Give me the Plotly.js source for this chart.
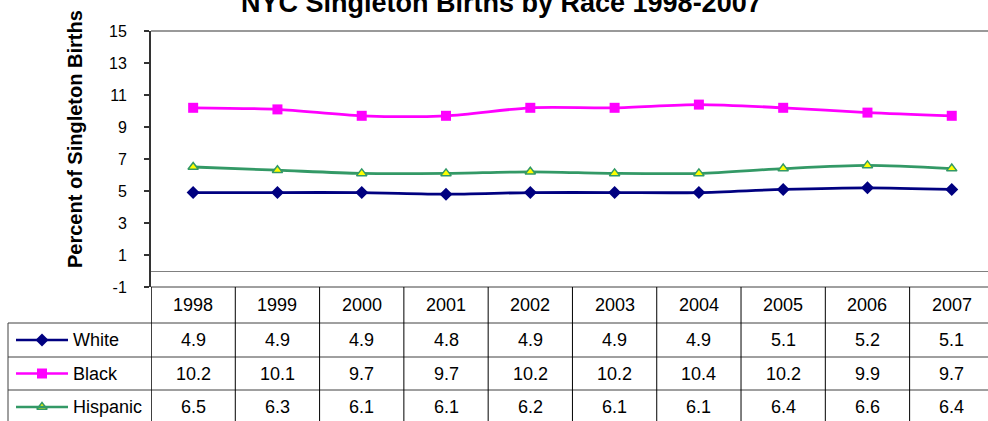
<!DOCTYPE html>
<html>
<head>
<meta charset="utf-8">
<script src="https://cdn.plot.ly/plotly-3.0.1.min.js"></script>
<style>html,body{margin:0;padding:0;background:#fff;}#chart{width:988px;height:421px;}</style>
</head>
<body>
<div id="chart"></div>
<script>
// ---- data ----
const years = ["1998","1999","2000","2001","2002","2003","2004","2005","2006","2007"];
const white = [4.9, 4.9, 4.9, 4.8, 4.9, 4.9, 4.9, 5.1, 5.2, 5.1];
const black = [10.2, 10.1, 9.7, 9.7, 10.2, 10.2, 10.4, 10.2, 9.9, 9.7];
const hispanic = [6.5, 6.3, 6.1, 6.1, 6.2, 6.1, 6.1, 6.4, 6.6, 6.4];
const seriesNames = ["White", "Black", "Hispanic"];
const yTicks = [-1, 1, 3, 5, 7, 9, 11, 13, 15];
const chartTitle = "NYC Singleton Births by Race 1998-2007";
const yTitle = "Percent of Singleton Births";

// ---- layout constants (pixels) ----
const W = 988, H = 421;
const plotL = 151, plotT = 31, plotB = 287;
const FONT = "'Liberation Sans', Arial, sans-serif";
const styles = [
  {line: "#000080", marker: {symbol: "diamond", size: 10, color: "#000080"}},
  {line: "#FF00FF", marker: {symbol: "square", size: 10, color: "#FF00FF"}},
  {line: "#339966", marker: {symbol: "triangle-up", size: 9, color: "#FFFF00", line: {color: "#339966", width: 1.5}}}
];
const values = [white, black, hispanic];

const headerTop = plotB, headerBot = 323;
const rowBounds = [[323, 357], [357, 390], [390, 424]];
const legendLeft = 8;

const traces = values.map((v, i) => ({
  type: "scatter", mode: "lines+markers", name: seriesNames[i],
  x: years, y: v, xaxis: "x", yaxis: "y",
  line: {color: styles[i].line, width: 2.8, shape: "spline", smoothing: 0.8},
  marker: styles[i].marker, showlegend: false, hoverinfo: "skip"
}));

// legend sample markers in the table (pixel overlay axes)
values.forEach((v, i) => {
  const cy = (rowBounds[i][0] + rowBounds[i][1]) / 2;
  traces.push({
    type: "scatter", mode: "markers", x: [42], y: [cy], xaxis: "x2", yaxis: "y2",
    marker: styles[i].marker, showlegend: false, hoverinfo: "skip", cliponaxis: false
  });
});

const shapes = [];
const ann = [];
// plot area top border
shapes.push({type: "line", xref: "x2", yref: "y2", x0: plotL, x1: W + 5, y0: plotT, y1: plotT, line: {color: "#999999", width: 2}});
// table horizontal lines
shapes.push({type: "line", xref: "x2", yref: "y2", x0: plotL, x1: W + 5, y0: headerTop, y1: headerTop, line: {color: "#404040", width: 1}});
[headerBot, rowBounds[1][0], rowBounds[2][0]].forEach(y => {
  shapes.push({type: "line", xref: "x2", yref: "y2", x0: legendLeft, x1: W + 5, y0: y, y1: y, line: {color: "#404040", width: 1}});
});
// legend column left edge
shapes.push({type: "line", xref: "x2", yref: "y2", x0: legendLeft, x1: legendLeft, y0: headerBot, y1: H + 5, line: {color: "#404040", width: 1}});
// column boundaries (from category axis)
for (let i = 0; i <= years.length; i++) {
  shapes.push({type: "line", xref: "x", yref: "y2", x0: i - 0.5, x1: i - 0.5, y0: headerTop, y1: H + 5,
    line: {color: "#000000", width: i === 0 ? 1.5 : 1}});
}
// header labels
years.forEach((yr, i) => {
  ann.push({xref: "x", yref: "y2", x: i, y: (headerTop + headerBot) / 2, text: yr, showarrow: false,
    xanchor: "center", yanchor: "middle", font: {family: FONT, size: 18, color: "#000"}});
});
// cells
values.forEach((v, r) => {
  const cy = (rowBounds[r][0] + rowBounds[r][1]) / 2;
  v.forEach((val, i) => {
    ann.push({xref: "x", yref: "y2", x: i, y: cy, text: val.toFixed(1), showarrow: false,
      xanchor: "center", yanchor: "middle", font: {family: FONT, size: 18, color: "#000"}});
  });
  // legend line sample
  shapes.push({type: "line", xref: "x2", yref: "y2", x0: 16, x1: 68, y0: cy, y1: cy, line: {color: styles[r].line, width: 2.5}});
  ann.push({xref: "x2", yref: "y2", x: 71, y: cy, text: seriesNames[r], showarrow: false,
    xanchor: "left", yanchor: "middle", font: {family: FONT, size: 18, color: "#000"}});
});
// title (clipped at top like reference)
ann.push({xref: "x2", yref: "y2", x: 501, y: 3, text: "<b>" + chartTitle + "</b>", showarrow: false,
  xanchor: "center", yanchor: "middle", font: {family: FONT, size: 27, color: "#000"}});
// y title
ann.push({xref: "x2", yref: "y2", x: 75, y: 139, text: "<b>" + yTitle + "</b>", showarrow: false, textangle: -90,
  xanchor: "center", yanchor: "middle", font: {family: FONT, size: 20, color: "#000"}});

const layout = {
  width: W, height: H,
  margin: {l: 0, r: 0, t: 0, b: 0},
  paper_bgcolor: "#ffffff", plot_bgcolor: "rgba(0,0,0,0)",
  showlegend: false,
  xaxis: {domain: [plotL / W, 1], type: "category", range: [-0.5, 9.43], showticklabels: false,
    ticks: "", showline: false, showgrid: false, zeroline: false, fixedrange: true},
  yaxis: {domain: [1 - plotB / H, 1 - plotT / H], range: [-1, 15], tickvals: yTicks, ticktext: yTicks.map(String),
    ticks: "outside", ticklen: 5, tickwidth: 1.5, tickcolor: "#333", showline: true, linecolor: "#333", linewidth: 2,
    showgrid: false, zeroline: true, zerolinecolor: "#808080", zerolinewidth: 1, ticklabelstandoff: 14,
    tickfont: {family: FONT, size: 16, color: "#000"}, automargin: false, fixedrange: true},
  xaxis2: {domain: [0, 1], anchor: "y2", range: [0, W], visible: false, fixedrange: true},
  yaxis2: {domain: [0, 1], anchor: "x2", range: [H, 0], visible: false, fixedrange: true},
  shapes: shapes,
  annotations: ann
};

Plotly.newPlot("chart", traces, layout, {staticPlot: true, displayModeBar: false});
</script>
</body>
</html>
